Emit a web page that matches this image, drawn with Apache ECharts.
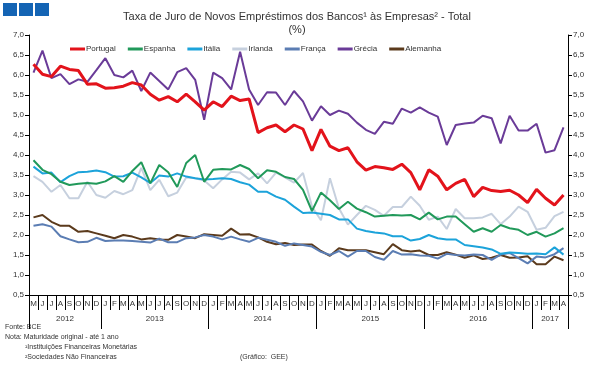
<!DOCTYPE html>
<html>
<head>
<meta charset="utf-8">
<script src="https://cdn.jsdelivr.net/npm/echarts@6/dist/echarts.min.js"></script>
<style>
html,body{margin:0;padding:0;background:#fff;}
#chart{width:594px;height:368px;}
</style>
</head>
<body>
<div id="chart"></div>
<script>
// ---- data ----
var monthLabels = ['M','J','J','A','S','O','N','D',
  'J','F','M','A','M','J','J','A','S','O','N','D',
  'J','F','M','A','M','J','J','A','S','O','N','D',
  'J','F','M','A','M','J','J','A','S','O','N','D',
  'J','F','M','A','M','J','J','A','S','O','N','D',
  'J','F','M','A'];
var yearLabels = ['2012','2013','2014','2015','2016','2017'];
var yearMonthCounts = [8,12,12,12,12,4];
var seriesNames = ['Portugal','Espanha','Itália','Irlanda','França','Grécia','Alemanha'];

var portugal = [6.27,6.02,5.96,6.22,6.14,6.11,5.77,5.78,5.67,5.68,
  5.72,5.81,5.75,5.52,5.37,5.46,5.33,5.52,5.33,5.12,
  5.33,5.21,5.47,5.36,5.40,4.56,4.68,4.75,4.58,4.75,
  4.65,4.11,4.64,4.22,4.11,4.18,3.83,3.62,3.71,3.68,
  3.64,3.77,3.56,3.13,3.63,3.47,3.13,3.29,3.39,2.96,
  3.19,3.11,3.09,3.12,3.00,2.81,3.14,2.92,2.75,3.00];
var espanha = [3.87,3.63,3.52,3.33,3.25,3.28,3.30,3.28,3.34,3.47,
  3.33,3.60,3.82,3.29,3.75,3.57,3.20,3.80,4.00,3.33,
  3.63,3.65,3.64,3.75,3.65,3.42,3.62,3.58,3.45,3.40,
  3.13,2.60,3.06,2.87,2.65,2.83,2.66,2.57,2.46,2.48,
  2.50,2.49,2.50,2.39,2.56,2.39,2.46,2.46,2.27,2.08,
  2.17,2.08,2.25,2.17,2.13,2.00,2.08,1.96,2.04,2.17];
var italia = [3.71,3.54,3.56,3.32,3.47,3.57,3.58,3.61,3.57,3.46,
  3.47,3.56,3.44,3.30,3.49,3.46,3.54,3.46,3.42,3.39,
  3.40,3.42,3.40,3.32,3.26,3.08,3.08,2.96,2.88,2.71,
  2.55,2.56,2.53,2.50,2.39,2.39,2.16,2.10,2.06,2.04,
  1.97,1.97,1.86,1.90,2.00,1.92,1.89,1.89,1.75,1.72,
  1.69,1.64,1.53,1.56,1.55,1.53,1.54,1.52,1.69,1.51];
var irlanda = [3.47,3.33,3.08,3.25,2.92,2.92,3.33,3.00,2.93,3.10,
  3.02,3.12,3.68,3.12,3.38,2.97,3.06,3.44,3.42,3.36,
  3.17,3.39,3.58,3.56,3.39,3.54,3.29,3.56,3.44,3.31,
  3.55,2.71,2.37,3.42,2.67,2.26,2.50,2.73,2.63,2.48,
  2.70,2.70,2.96,2.73,2.38,2.46,2.15,2.65,2.42,2.42,
  2.44,2.53,2.27,2.46,2.71,2.58,2.13,2.18,2.47,2.58];
var franca = [2.23,2.27,2.21,1.97,1.89,1.82,1.83,1.93,1.85,1.86,
  1.86,1.85,1.83,1.81,1.91,1.82,1.82,1.92,1.94,2.00,
  1.96,1.89,1.96,1.89,1.83,1.93,1.88,1.83,1.73,1.79,
  1.75,1.71,1.58,1.50,1.60,1.46,1.60,1.60,1.45,1.38,
  1.60,1.51,1.52,1.49,1.48,1.41,1.53,1.50,1.49,1.51,
  1.50,1.38,1.51,1.55,1.42,1.29,1.46,1.44,1.52,1.67];
var grecia = [6.06,6.61,5.92,6.02,5.77,5.89,5.83,6.12,6.42,6.00,
  5.94,6.11,5.60,6.06,5.85,5.64,6.07,6.17,5.88,4.88,
  6.06,5.92,5.64,6.58,5.64,5.25,5.57,5.56,5.25,5.60,
  5.34,4.86,5.22,5.00,5.11,5.03,4.81,4.63,4.53,4.83,
  4.78,5.16,5.06,5.19,5.06,4.96,4.25,4.75,4.79,4.81,
  4.98,4.92,4.29,4.98,4.61,4.61,4.78,4.06,4.12,4.69];
var alemanha = [2.44,2.50,2.33,2.23,2.23,2.08,2.10,2.04,1.98,1.92,
  2.00,1.96,1.89,1.92,1.89,1.88,2.00,1.96,1.92,2.02,
  2.00,1.98,2.16,2.01,2.02,1.94,1.83,1.77,1.80,1.75,
  1.76,1.76,1.60,1.48,1.67,1.62,1.62,1.62,1.57,1.52,
  1.77,1.62,1.59,1.61,1.50,1.50,1.57,1.51,1.43,1.49,
  1.40,1.43,1.50,1.43,1.44,1.47,1.27,1.27,1.46,1.37];

var seriesColors = {
  'Portugal':'#E3131B','Espanha':'#21995A','Itália':'#1CA3DA','Irlanda':'#C6D0DE',
  'França':'#5B7DB3','Grécia':'#6A3B98','Alemanha':'#5B3A1C'
};

// ---- year boundaries / centers ----
var yearBounds = [0], yearCenters = [];
(function(){
  var acc = 0;
  for (var k = 0; k < yearMonthCounts.length; k++) {
    yearCenters.push(acc + yearMonthCounts[k] / 2);
    acc += yearMonthCounts[k];
    yearBounds.push(acc);
  }
})();
var nMonths = monthLabels.length;

var FONT = 'Liberation Sans, Arial, sans-serif';
var fmtY = function(v){ return v.toFixed(1).replace('.', ','); };

function mkSeries(name, data, width, z) {
  return {
    name: name, type: 'line', data: data, symbol: 'none',
    xAxisIndex: 0, yAxisIndex: 0, z: z,
    lineStyle: { color: seriesColors[name], width: width },
    itemStyle: { color: seriesColors[name] },
    emphasis: { disabled: true }, animation: false
  };
}

var chart = echarts.init(document.getElementById('chart'), null, { renderer: 'canvas' });
var option = {
  animation: false,
  backgroundColor: '#fff',
  textStyle: { fontFamily: FONT },
  title: {
    text: 'Taxa de Juro de Novos Empréstimos dos Bancos¹ às Empresas² - Total\n(%)',
    left: 'center', top: 5,
    textStyle: { fontFamily: FONT, fontSize: 11, fontWeight: 'normal', color: '#333', lineHeight: 13, align: 'center' }
  },
  legend: {
    data: seriesNames,
    left: 65, top: 40,
    itemWidth: 15, itemHeight: 3, itemGap: 12,
    icon: 'rect',
    textStyle: { fontFamily: FONT, fontSize: 8, color: '#333', padding: [0,0,0,-4] },
    selectedMode: false
  },
  grid: { left: 29, right: 26, top: 35, bottom: 73, containLabel: false },
  xAxis: [{
    type: 'category', data: monthLabels, position: 'bottom', boundaryGap: true,
    axisLine: { show: true, lineStyle: { color: '#000', width: 1 } },
    axisTick: { show: true, interval: 0, length: 15, lineStyle: { color: '#000', width: 1 } },
    axisLabel: { interval: 0, fontSize: 8, color: '#333', margin: 5, fontFamily: FONT },
    splitLine: { show: false }
  }, {
    type: 'value', min: 0, max: nMonths, position: 'bottom', gridIndex: 0,
    axisLine: { show: false },
    axisTick: { show: true, customValues: yearBounds, length: 34, lineStyle: { color: '#000', width: 1 } },
    axisLabel: {
      show: true, customValues: yearCenters, fontSize: 8, color: '#333', margin: 20, fontFamily: FONT,
      formatter: function(v){ var k = yearCenters.indexOf(v); return k >= 0 ? yearLabels[k] : ''; }
    },
    splitLine: { show: false }
  }],
  yAxis: [{
    type: 'value', min: 0.5, max: 7, interval: 0.5, position: 'left',
    axisLine: { show: true, lineStyle: { color: '#000', width: 1 } },
    axisTick: { show: true, length: 4, lineStyle: { color: '#000' } },
    axisLabel: { fontSize: 8, color: '#333', margin: 5, formatter: fmtY, fontFamily: FONT },
    splitLine: { show: false }
  }, {
    type: 'value', min: 0.5, max: 7, interval: 0.5, position: 'right',
    axisLine: { show: true, lineStyle: { color: '#000', width: 1 } },
    axisTick: { show: true, length: 4, lineStyle: { color: '#000' } },
    axisLabel: { fontSize: 8, color: '#333', margin: 5, formatter: fmtY, fontFamily: FONT },
    splitLine: { show: false }
  }],
  series: [
    mkSeries('Irlanda', irlanda, 2, 2),
    mkSeries('Alemanha', alemanha, 2, 3),
    mkSeries('França', franca, 2, 3),
    mkSeries('Itália', italia, 2, 4),
    mkSeries('Espanha', espanha, 2, 5),
    mkSeries('Grécia', grecia, 2, 6),
    mkSeries('Portugal', portugal, 3, 7)
  ],
  graphic: [
    { type: 'rect', left: 3, top: 3, shape: { width: 14, height: 13 }, style: { fill: '#1464B4' } },
    { type: 'rect', left: 19, top: 3, shape: { width: 14, height: 13 }, style: { fill: '#1464B4' } },
    { type: 'rect', left: 35, top: 3, shape: { width: 14, height: 13 }, style: { fill: '#1464B4' } },
    { type: 'text', left: 5, top: 324, style: { text: 'Fonte: BCE', font: '7px ' + FONT, fill: '#333' } },
    { type: 'text', left: 5, top: 334, style: { text: 'Nota: Maturidade original - até 1 ano', font: '7px ' + FONT, fill: '#333' } },
    { type: 'text', left: 25, top: 344, style: { text: '¹Instituições Financeiras Monetárias', font: '7px ' + FONT, fill: '#333' } },
    { type: 'text', left: 25, top: 354, style: { text: '²Sociedades Não Financeiras', font: '7px ' + FONT, fill: '#333' } },
    { type: 'text', left: 240, top: 354, style: { text: '(Gráfico:  GEE)', font: '7px ' + FONT, fill: '#333' } }
  ]
};
chart.setOption(option);
</script>
</body>
</html>
